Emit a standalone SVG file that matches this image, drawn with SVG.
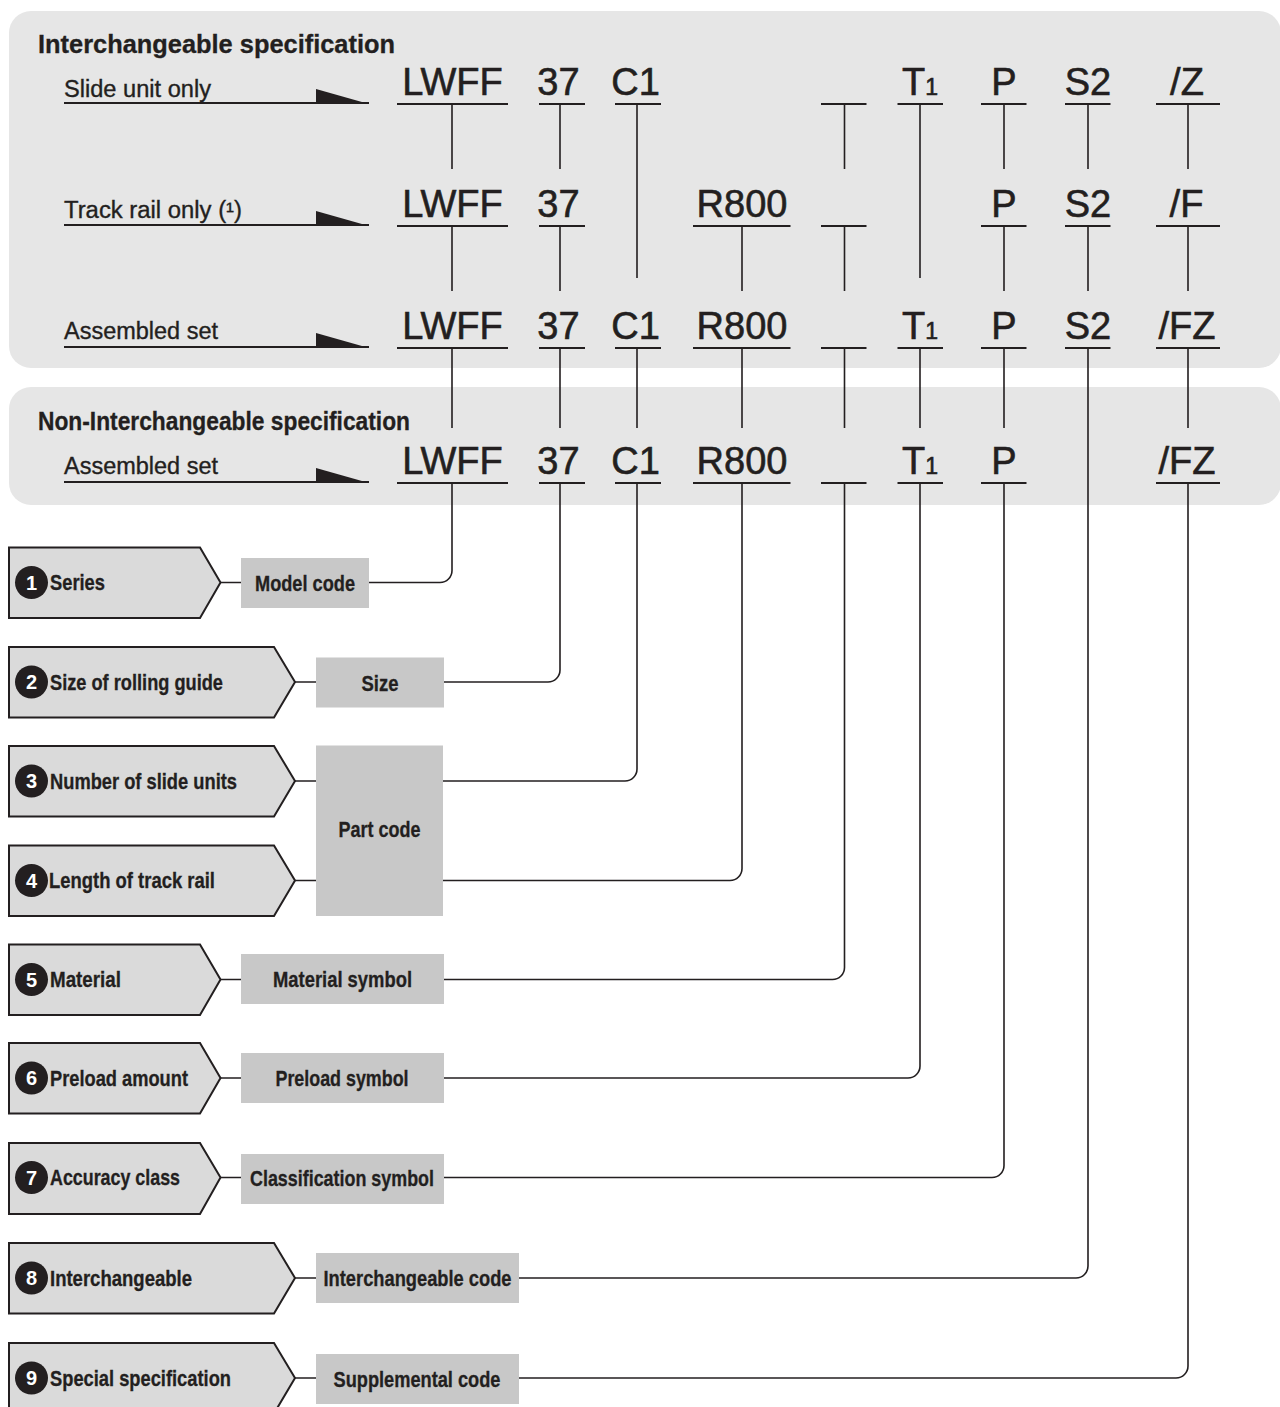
<svg xmlns="http://www.w3.org/2000/svg" width="1280" height="1407" viewBox="0 0 1280 1407">
<style>
.panel{fill:#e6e6e6}
.title{font-family:"Liberation Sans Narrow","Liberation Sans",Arial,sans-serif;font-weight:bold;font-size:26px;fill:#231f20;stroke:#231f20;stroke-width:0.3}
.rl{font-family:"Liberation Sans",Arial,sans-serif;font-size:23px;fill:#231f20;stroke:#231f20;stroke-width:0.35}
.code{font-family:"Liberation Sans",Arial,sans-serif;font-size:38px;fill:#231f20;text-anchor:middle;stroke:#231f20;stroke-width:0.6}
.sub{font-size:23px}
.ul{stroke:#231f20;stroke-width:2;fill:none}
.v{stroke:#231f20;stroke-width:1.6;fill:none}
.tri{fill:#231f20}
.pent{fill:#dadada;stroke:#231f20;stroke-width:2}
.box{fill:#c8c8c8}
.lbl{font-family:"Liberation Sans Narrow","Liberation Sans",Arial,sans-serif;font-weight:bold;font-size:21.5px;fill:#231f20;stroke:#231f20;stroke-width:0.3}
.blbl{font-family:"Liberation Sans Narrow","Liberation Sans",Arial,sans-serif;font-weight:bold;font-size:21.5px;fill:#231f20;text-anchor:middle;stroke:#231f20;stroke-width:0.3}
.nc{fill:#231f20}
.nt{font-family:"Liberation Sans Narrow","Liberation Sans",Arial,sans-serif;font-weight:bold;font-size:20px;fill:#ffffff;text-anchor:middle}
</style>

<g id="panel-interchangeable">
<rect class="panel" x="9" y="11" width="1272" height="357" rx="22"/>
<text class="title" x="38" y="53" textLength="357" lengthAdjust="spacingAndGlyphs">Interchangeable specification</text>
</g>
<g id="panel-non-interchangeable">
<rect class="panel" x="9" y="387" width="1272" height="118" rx="22"/>
<text class="title" x="38" y="430" textLength="372" lengthAdjust="spacingAndGlyphs">Non-Interchangeable specification</text>
</g>

<g id="row-slide-unit">
<text class="rl" x="64" y="97" textLength="147" lengthAdjust="spacingAndGlyphs">Slide unit only</text>
<line class="ul" x1="64" y1="103" x2="369" y2="103"/>
<path class="tri" d="M316,89 L316,104 L369,104 Z"/>
<text class="code" x="452.5" y="95">LWFF</text>
<text class="code" x="558.5" y="95">37</text>
<text class="code" x="635.5" y="95">C1</text>
<text class="code" x="902" y="95" style="text-anchor:start">T<tspan class="sub">1</tspan></text>
<text class="code" x="1004" y="95">P</text>
<text class="code" x="1088" y="95">S2</text>
<text class="code" x="1187" y="95">/Z</text>
<path class="ul" d="M397,104H508M539,104H585M615,104H661M821,104H866.5M897.5,104H943M981,104H1026.5M1065,104H1110.5M1156,104H1220"/>
</g>

<g id="row-track-rail">
<text class="rl" x="64" y="218" textLength="178" lengthAdjust="spacingAndGlyphs">Track rail only (¹)</text>
<line class="ul" x1="64" y1="225" x2="369" y2="225"/>
<path class="tri" d="M316,211 L316,226 L369,226 Z"/>
<text class="code" x="452.5" y="217">LWFF</text>
<text class="code" x="558.5" y="217">37</text>
<text class="code" x="742" y="217">R800</text>
<text class="code" x="1004" y="217">P</text>
<text class="code" x="1088" y="217">S2</text>
<text class="code" x="1186.5" y="217">/F</text>
<path class="ul" d="M397,226H508M539,226H585M693,226H790.5M821,226H866.5M981,226H1026.5M1065,226H1110.5M1156,226H1220"/>
</g>

<g id="row-assembled-interchangeable">
<text class="rl" x="64" y="339" textLength="154" lengthAdjust="spacingAndGlyphs">Assembled set</text>
<line class="ul" x1="64" y1="347" x2="369" y2="347"/>
<path class="tri" d="M316,333 L316,348 L369,348 Z"/>
<text class="code" x="452.5" y="339">LWFF</text>
<text class="code" x="558.5" y="339">37</text>
<text class="code" x="635.5" y="339">C1</text>
<text class="code" x="742" y="339">R800</text>
<text class="code" x="902" y="339" style="text-anchor:start">T<tspan class="sub">1</tspan></text>
<text class="code" x="1004" y="339">P</text>
<text class="code" x="1088" y="339">S2</text>
<text class="code" x="1187" y="339">/FZ</text>
<path class="ul" d="M397,348H508M539,348H585M615,348H661M693,348H790.5M821,348H866.5M897.5,348H943M981,348H1026.5M1065,348H1110.5M1156,348H1220"/>
</g>

<g id="row-assembled-non-interchangeable">
<text class="rl" x="64" y="474" textLength="154" lengthAdjust="spacingAndGlyphs">Assembled set</text>
<line class="ul" x1="64" y1="482" x2="369" y2="482"/>
<path class="tri" d="M316,468 L316,483 L369,483 Z"/>
<text class="code" x="452.5" y="474">LWFF</text>
<text class="code" x="558.5" y="474">37</text>
<text class="code" x="635.5" y="474">C1</text>
<text class="code" x="742" y="474">R800</text>
<text class="code" x="902" y="474" style="text-anchor:start">T<tspan class="sub">1</tspan></text>
<text class="code" x="1004" y="474">P</text>
<text class="code" x="1187" y="474">/FZ</text>
<path class="ul" d="M397,483H508M539,483H585M615,483H661M693,483H790.5M821,483H866.5M897.5,483H943M981,483H1026.5M1156,483H1220"/>
</g>

<g id="node-1">
<path class="pent" d="M9,547.5H200L220.5,582.5L200,618H9Z"/>
<circle class="nc" cx="31.5" cy="582.5" r="16.5"/>
<text class="nt" x="31.5" y="589.5">1</text>
<text class="lbl" x="50" y="590" textLength="55" lengthAdjust="spacingAndGlyphs">Series</text>
<rect class="box" x="241" y="558" width="128" height="50"/>
<text class="blbl" x="305" y="591" textLength="100" lengthAdjust="spacingAndGlyphs">Model code</text>
</g>
<g id="node-2">
<path class="pent" d="M9,647H274L295,682L274,717.5H9Z"/>
<circle class="nc" cx="31.5" cy="682" r="16.5"/>
<text class="nt" x="31.5" y="689">2</text>
<text class="lbl" x="50" y="689.5" textLength="173" lengthAdjust="spacingAndGlyphs">Size of rolling guide</text>
<rect class="box" x="316" y="657.5" width="128" height="50"/>
<text class="blbl" x="380" y="690.5" textLength="37" lengthAdjust="spacingAndGlyphs">Size</text>
</g>
<g id="node-3">
<path class="pent" d="M9,746H274L295,781L274,816.5H9Z"/>
<circle class="nc" cx="31.5" cy="781" r="16.5"/>
<text class="nt" x="31.5" y="788">3</text>
<text class="lbl" x="50" y="788.5" textLength="187" lengthAdjust="spacingAndGlyphs">Number of slide units</text>
</g>
<g id="node-4">
<path class="pent" d="M9,845.5H274L295,880.5L274,916H9Z"/>
<circle class="nc" cx="31.5" cy="880.5" r="16.5"/>
<text class="nt" x="31.5" y="887.5">4</text>
<text class="lbl" x="49" y="888" textLength="166" lengthAdjust="spacingAndGlyphs">Length of track rail</text>
</g>
<g id="part-code">
<rect class="box" x="316" y="745.5" width="127" height="170.5"/>
<text class="blbl" x="379.5" y="837" textLength="82" lengthAdjust="spacingAndGlyphs">Part code</text>
</g>
<g id="node-5">
<path class="pent" d="M9,944.5H200L220.5,979.5L200,1015H9Z"/>
<circle class="nc" cx="31.5" cy="979.5" r="16.5"/>
<text class="nt" x="31.5" y="986.5">5</text>
<text class="lbl" x="50" y="987" textLength="71" lengthAdjust="spacingAndGlyphs">Material</text>
<rect class="box" x="241" y="954" width="203" height="50"/>
<text class="blbl" x="342.5" y="987" textLength="139" lengthAdjust="spacingAndGlyphs">Material symbol</text>
</g>
<g id="node-6">
<path class="pent" d="M9,1043H200L220.5,1078L200,1113.5H9Z"/>
<circle class="nc" cx="31.5" cy="1078" r="16.5"/>
<text class="nt" x="31.5" y="1085">6</text>
<text class="lbl" x="50" y="1085.5" textLength="138" lengthAdjust="spacingAndGlyphs">Preload amount</text>
<rect class="box" x="241" y="1053" width="203" height="50"/>
<text class="blbl" x="342" y="1086" textLength="133" lengthAdjust="spacingAndGlyphs">Preload symbol</text>
</g>
<g id="node-7">
<path class="pent" d="M9,1143H200L220.5,1177.5L200,1214H9Z"/>
<circle class="nc" cx="31.5" cy="1177.5" r="16.5"/>
<text class="nt" x="31.5" y="1184.5">7</text>
<text class="lbl" x="50" y="1185" textLength="130" lengthAdjust="spacingAndGlyphs">Accuracy class</text>
<rect class="box" x="241" y="1154" width="203" height="50"/>
<text class="blbl" x="342" y="1186" textLength="184" lengthAdjust="spacingAndGlyphs">Classification symbol</text>
</g>
<g id="node-8">
<path class="pent" d="M9,1243H274L295,1278L274,1313.5H9Z"/>
<circle class="nc" cx="31.5" cy="1278" r="16.5"/>
<text class="nt" x="31.5" y="1285">8</text>
<text class="lbl" x="50" y="1285.5" textLength="142" lengthAdjust="spacingAndGlyphs">Interchangeable</text>
<rect class="box" x="316" y="1253" width="203" height="50"/>
<text class="blbl" x="417.5" y="1286" textLength="188" lengthAdjust="spacingAndGlyphs">Interchangeable code</text>
</g>
<g id="node-9">
<path class="pent" d="M9,1343H274L295,1378L274,1413.5H9Z"/>
<circle class="nc" cx="31.5" cy="1378" r="16.5"/>
<text class="nt" x="31.5" y="1385">9</text>
<text class="lbl" x="50" y="1385.5" textLength="181" lengthAdjust="spacingAndGlyphs">Special specification</text>
<rect class="box" x="316" y="1354" width="203" height="50"/>
<text class="blbl" x="417" y="1387" textLength="167" lengthAdjust="spacingAndGlyphs">Supplemental code</text>
</g>

<g id="connectors">
<path class="v" d="M452,104V169M560,104V169M844.5,104V169M1004,104V169M1088,104V169M1188,104V169"/>
<path class="v" d="M637,104V278M920,104V278"/>
<path class="v" d="M452,226V291M560,226V291M742,226V291M844.5,226V291M1004,226V291M1088,226V291M1188,226V291"/>
<path class="v" d="M452,348V428M560,348V428M637,348V428M742,348V428M844.5,348V428M920,348V428M1004,348V428M1188,348V428"/>
<path class="v" d="M220.5,582.5H241M369,582.5H440A12,12 0 0 0 452,570.5V483"/>
<path class="v" d="M295,682H316M444,682H548A12,12 0 0 0 560,670V483"/>
<path class="v" d="M295,781H316M443,781H625A12,12 0 0 0 637,769V483"/>
<path class="v" d="M295,880.5H316M443,880.5H730A12,12 0 0 0 742,868.5V483"/>
<path class="v" d="M220.5,979.5H241M444,979.5H832.5A12,12 0 0 0 844.5,967.5V483"/>
<path class="v" d="M220.5,1078H241M444,1078H908A12,12 0 0 0 920,1066V483"/>
<path class="v" d="M220.5,1177.5H241M444,1177.5H992A12,12 0 0 0 1004,1165.5V483"/>
<path class="v" d="M295,1278H316M519,1278H1076A12,12 0 0 0 1088,1266V348"/>
<path class="v" d="M295,1378H316M519,1378H1176A12,12 0 0 0 1188,1366V483"/>
</g>
</svg>
